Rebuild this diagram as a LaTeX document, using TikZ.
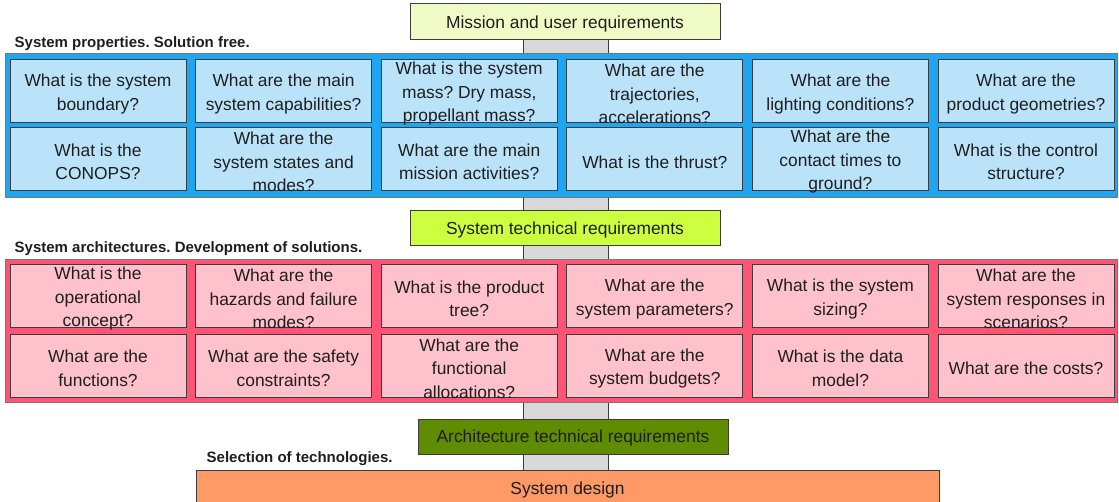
\documentclass[tikz,border=0pt]{standalone}
\usepackage{fontspec}
\setmainfont{Liberation Sans}
\usetikzlibrary{positioning}
\frenchspacing

\definecolor{ink}{RGB}{30,30,30}
\definecolor{edge}{RGB}{60,60,60}
\definecolor{rim}{RGB}{120,120,120}
\definecolor{spinegray}{RGB}{217,217,217}
\definecolor{missionfill}{RGB}{240,250,197}
\definecolor{strfill}{RGB}{204,255,64}
\definecolor{archfill}{RGB}{95,140,0}
\definecolor{designfill}{RGB}{255,153,102}
\definecolor{bluepanel}{RGB}{30,166,242}
\definecolor{bluecell}{RGB}{186,227,250}
\definecolor{redpanel}{RGB}{255,84,115}
\definecolor{redcell}{RGB}{255,194,204}

\tikzset{
  reqbox/.style={draw=edge, line width=1pt, inner sep=0pt, text=ink,
    text height=12.5pt, text depth=0pt,
    font=\fontsize{17.4}{23.5}\selectfont},
  panel/.style={draw=rim, line width=1pt, inner sep=0pt},
  qcell/.style={draw=edge, line width=1pt, minimum width=176pt,
    minimum height=63pt, inner sep=0pt},
  qtext/.style={align=center, inner sep=0pt, text=ink, yshift=-2.5pt,
    font=\fontsize{17.4}{23.5}\selectfont},
  tag/.style={inner sep=0pt, anchor=south west, text=ink,
    font=\fontsize{15}{18}\selectfont\bfseries},
}

\begin{document}
\begin{tikzpicture}[x=1pt,y=-1pt]
  \useasboundingbox (0,0) rectangle (1119,502);

  % grey spine behind everything
  \node[panel, draw=edge, fill=spinegray, minimum width=85pt,
    minimum height=430pt] (spine) at (565.5,255) {};

  %% requirement boxes
  \node[reqbox, fill=missionfill, minimum width=310pt, minimum height=36pt]
    (mission) at (565,22) {Mission and user requirements};
  \node[reqbox, fill=strfill, minimum width=310pt, minimum height=35pt]
    (str) at (565,228.5) {System technical requirements};
  \node[reqbox, fill=archfill, minimum width=310pt, minimum height=35pt]
    (arch) at (573,436.5) {Architecture technical requirements};
  \node[reqbox, fill=designfill, minimum width=743pt, minimum height=36pt]
    (design) at (567.5,488) {System design};

  %% the two panels
  \node[panel, fill=bluepanel, minimum width=1112pt, minimum height=144pt]
    (props) at (561,126) {};
  \node[panel, fill=redpanel, minimum width=1112pt, minimum height=143pt]
    (archs) at (561,331.5) {};

  % panel titles
  \node[tag, above right=3pt and 10pt of props.north west] (propstag)
    {System properties. Solution free.};
  \node[tag, above right=4pt and 10pt of archs.north west] (archstag)
    {System architectures. Development of solutions.};
  \node[tag, above right=4pt and 11pt of design.north west] (designtag)
    {Selection of technologies.};

  %% blue cells
  \foreach \txt [count=\i from 0] in {{What is the system\\boundary?},
      {What are the main\\system capabilities?},
      {What is the system\\mass? Dry mass,\\propellant mass?},
      {What are the\\trajectories,\\accelerations?},
      {What are the\\lighting conditions?},
      {What are the\\product geometries?}}{
    \node[qcell, fill=bluecell] (p1\i) at ({98+185.6*\i},91.5) {};
    \node[qtext] (p1\i-txt) at (p1\i) {\txt};
  }
  \foreach \txt [count=\i from 0] in {{What is the\\CONOPS?},
      {What are the\\system states and\\modes?},
      {What are the main\\mission activities?},
      {What is the thrust?},
      {What are the\\contact times to\\ground?},
      {What is the control\\structure?}}{
    \node[qcell, fill=bluecell] (p2\i) at ({98+185.6*\i},159.5) {};
    \node[qtext] (p2\i-txt) at (p2\i) {\txt};
  }

  %% red cells
  \foreach \txt [count=\i from 0] in {{What is the\\operational\\concept?},
      {What are the\\hazards and failure\\modes?},
      {What is the product\\tree?},
      {What are the\\system parameters?},
      {What is the system\\sizing?},
      {What are the\\system responses in\\scenarios?}}{
    \node[qcell, fill=redcell] (a1\i) at ({98+185.6*\i},296.5) {};
    \node[qtext] (a1\i-txt) at (a1\i) {\txt};
  }
  \foreach \txt [count=\i from 0] in {{What are the\\functions?},
      {What are the safety\\constraints?},
      {What are the\\functional\\allocations?},
      {What are the\\system budgets?},
      {What is the data\\model?},
      {What are the costs?}}{
    \node[qcell, fill=redcell] (a2\i) at ({98+185.6*\i},366) {};
    \node[qtext] (a2\i-txt) at (a2\i) {\txt};
  }
\end{tikzpicture}
\end{document}
